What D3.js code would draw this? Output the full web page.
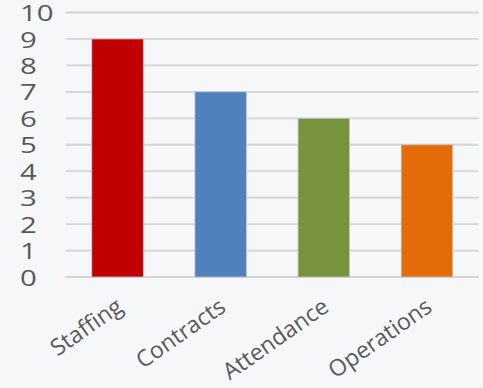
<!DOCTYPE html>
<html lang="en">
<head>
  <meta charset="utf-8">
  <title>Bar chart</title>
  <script src="https://d3js.org/d3.v7.min.js"></script>
  <style>
    body { margin: 0; background: #f6f7f9; }
    svg { display: block; }
  </style>
</head>
<body>
  <svg id="chart" width="483" height="388"></svg>
  <script>
    const categories = ["Staffing", "Contracts", "Attendance", "Operations"];
    const values = [9, 7, 6, 5];
    const colors = ["#c00000", "#4f81bd", "#77933c", "#e36c09"];
    const yTicks = [0, 1, 2, 3, 4, 5, 6, 7, 8, 9, 10];

    const width = 483, height = 388;
    const margin = { top: 12.5, right: 4.5, bottom: 111, left: 66 };
    const stretch = 1.4; // tick digits look wide in the picture

    const svg = d3.select("#chart");
    svg.append("rect").attr("width", width).attr("height", height).attr("fill", "#f6f7f9");

    const x = d3.scaleBand()
        .domain(categories)
        .range([margin.left, width - margin.right])
        .paddingInner(0.5)
        .paddingOuter(0.25);

    const y = d3.scaleLinear()
        .domain([0, 10])
        .range([height - margin.bottom, margin.top]);

    // gridlines
    svg.append("g")
        .selectAll("line")
        .data(yTicks)
        .join("line")
          .attr("x1", margin.left)
          .attr("x2", width - margin.right)
          .attr("y1", d => y(d))
          .attr("y2", d => y(d))
          .attr("stroke", "#d3d4d6")
          .attr("stroke-width", 1.8);

    // y labels, left aligned
    svg.append("g")
        .selectAll("text")
        .data(yTicks)
        .join("text")
          .attr("transform", d => `translate(20,${y(d) + 1}) scale(${stretch},1)`)
          .attr("dy", "0.36em")
          .attr("fill", "#595959")
          .style("font-family", "'Open Sans', sans-serif")
          .style("font-size", "21px")
          .text(d => d);

    // bars
    svg.append("g")
        .selectAll("rect")
        .data(values)
        .join("rect")
          .attr("x", (d, i) => x(categories[i]))
          .attr("y", d => y(d))
          .attr("width", x.bandwidth())
          .attr("height", d => y(0) - y(d))
          .attr("fill", (d, i) => colors[i])
          .attr("stroke", "#c8c8c8")
          .attr("stroke-width", 0.8);

    // x labels
    svg.append("g")
        .selectAll("text")
        .data(categories)
        .join("text")
          .attr("text-anchor", "end")
          .attr("transform", d => `translate(${x(d) + x.bandwidth() / 2 + 2},${y(0) + 26.5}) rotate(-35)`)
          .attr("dy", "0.35em")
          .attr("fill", "#595959")
          .style("font-family", "'Open Sans', sans-serif")
          .style("font-size", "23px")
          .text(d => d);
  </script>
</body>
</html>
